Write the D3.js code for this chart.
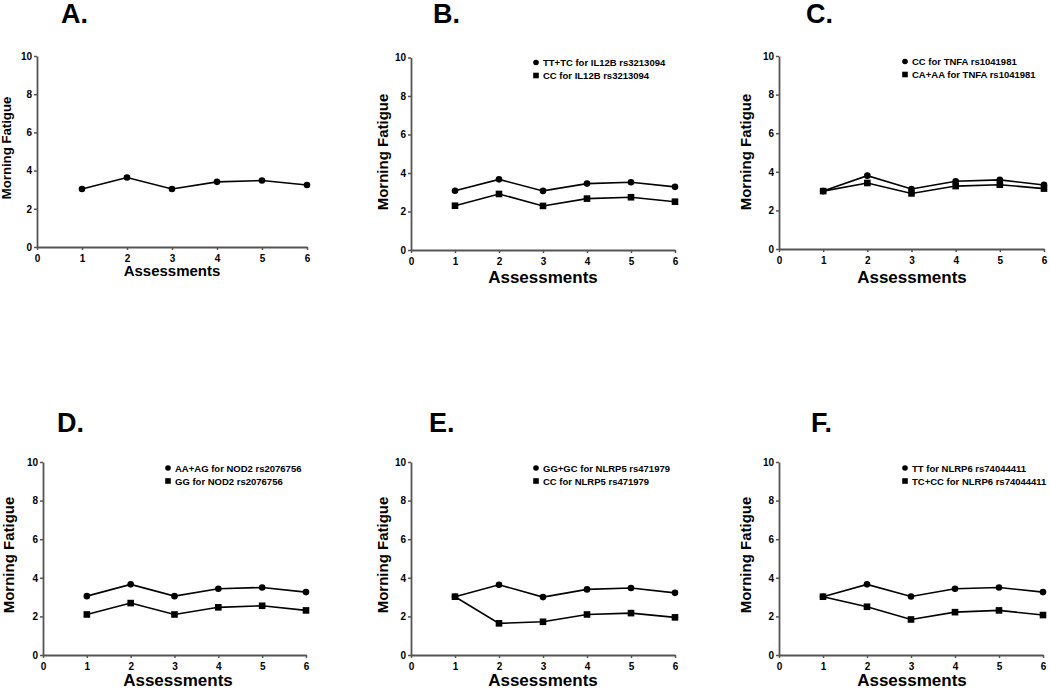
<!DOCTYPE html>
<html>
<head>
<meta charset="utf-8">
<script src="https://cdn.jsdelivr.net/npm/d3@7"></script>
<style>
  html, body { margin: 0; padding: 0; background: #fff; }
  svg { display: block; font-family: "Liberation Sans", Arial, sans-serif; }
</style>
</head>
<body>
<svg id="chart" width="1050" height="689"></svg>
<script>
// ---------------- data ----------------
const assessments = [1, 2, 3, 4, 5, 6];
const xTicks = [0, 1, 2, 3, 4, 5, 6];
const yTicks = [0, 2, 4, 6, 8, 10];
const panelLetters = ["A.", "B.", "C.", "D.", "E.", "F."];
const xAxisTitle = "Assessments";
const yAxisTitle = "Morning Fatigue";

const fatigueA = [3.04, 3.64, 3.04, 3.41, 3.48, 3.25];

const circleB = [3.08, 3.67, 3.07, 3.45, 3.52, 3.28];
const squareB = [2.30, 2.91, 2.29, 2.67, 2.74, 2.51];
const legendB = ["TT+TC for IL12B rs3213094", "CC for IL12B rs3213094"];

const circleC = [3.00, 3.80, 3.11, 3.51, 3.58, 3.32];
const squareC = [3.00, 3.42, 2.88, 3.26, 3.33, 3.13];
const legendC = ["CC for TNFA rs1041981", "CA+AA for TNFA rs1041981"];

const circleD = [3.05, 3.66, 3.05, 3.43, 3.50, 3.26];
const squareD = [2.10, 2.69, 2.10, 2.47, 2.55, 2.31];
const legendD = ["AA+AG for NOD2 rs2076756", "GG for NOD2 rs2076756"];

const circleE = [3.02, 3.64, 3.00, 3.40, 3.47, 3.22];
const squareE = [3.02, 1.64, 1.72, 2.10, 2.17, 1.95];
const legendE = ["GG+GC for NLRP5 rs471979", "CC for NLRP5 rs471979"];

const circleF = [3.02, 3.66, 3.03, 3.43, 3.50, 3.26];
const squareF = [3.02, 2.50, 1.84, 2.22, 2.31, 2.07];
const legendF = ["TT for NLRP6 rs74044411", "TC+CC for NLRP6 rs74044411"];

const panelSeries = [
  { circle: fatigueA, square: null, legend: null },
  { circle: circleB, square: squareB, legend: legendB },
  { circle: circleC, square: squareC, legend: legendC },
  { circle: circleD, square: squareD, legend: legendD },
  { circle: circleE, square: squareE, legend: legendE },
  { circle: circleF, square: squareF, legend: legendF }
];

// ---------------- layout ----------------
const layout = [
  { x0: 37,  x1: 307,  yTop: 56,  yBot: 247, tx: 61,  ty: 23,  ylx: 6,   yly: 148, ylFont: 13.2, xlx: 172, xly: 276, xlFont: 15, lx: 0,   ly: 0 },
  { x0: 411, x1: 675,  yTop: 57.5, yBot: 250, tx: 433, ty: 23,  ylx: 382, yly: 152, ylFont: 15,   xlx: 543, xly: 283, xlFont: 17, lx: 536, ly: 62.5 },
  { x0: 779, x1: 1044, yTop: 56,  yBot: 249, tx: 806, ty: 23,  ylx: 745, yly: 152, ylFont: 15,   xlx: 912, xly: 283, xlFont: 17, lx: 905, ly: 61.5 },
  { x0: 43,  x1: 306,  yTop: 462, yBot: 655, tx: 57,  ty: 432, ylx: 8,   yly: 555, ylFont: 15,   xlx: 178, xly: 686, xlFont: 17, lx: 168, ly: 468 },
  { x0: 411, x1: 675,  yTop: 462, yBot: 655, tx: 429, ty: 432, ylx: 382, yly: 555, ylFont: 15,   xlx: 543, xly: 686, xlFont: 17, lx: 536, ly: 468 },
  { x0: 779, x1: 1043, yTop: 462, yBot: 655, tx: 811, ty: 432, ylx: 745, yly: 555, ylFont: 15,   xlx: 912, xly: 686, xlFont: 17, lx: 905, ly: 468 }
];

const svg = d3.select("#chart");
const axisColor = "#555";

layout.forEach((L, i) => {
  const S = panelSeries[i];
  const x = d3.scaleLinear().domain([0, 6]).range([L.x0, L.x1]);
  const y = d3.scaleLinear().domain([0, 10]).range([L.yBot, L.yTop]);
  const g = svg.append("g");

  // title letter
  g.append("text").attr("x", L.tx).attr("y", L.ty)
    .attr("font-size", 27).attr("font-weight", "bold").attr("fill", "#000")
    .text(panelLetters[i]);

  // axes
  const xAxis = g.append("g").attr("transform", `translate(0,${L.yBot})`)
    .call(d3.axisBottom(x).tickValues(xTicks).tickSize(3).tickPadding(4.5).tickSizeOuter(0).tickFormat(d3.format("d")));
  const yAxis = g.append("g").attr("transform", `translate(${L.x0},0)`)
    .call(d3.axisLeft(y).tickValues(yTicks).tickSize(3).tickPadding(2).tickSizeOuter(0).tickFormat(d3.format("d")));
  [xAxis, yAxis].forEach(a => {
    a.select(".domain").attr("stroke", axisColor).attr("stroke-width", 1.8);
    a.selectAll(".tick line").attr("stroke", axisColor).attr("stroke-width", 1.5);
    a.selectAll(".tick text").attr("font-size", 10).attr("font-weight", "bold")
      .attr("fill", "#000").attr("font-family", "Liberation Sans, Arial, sans-serif");
  });

  // axis titles
  g.append("text").attr("x", L.xlx).attr("y", L.xly).attr("text-anchor", "middle")
    .attr("font-size", L.xlFont).attr("font-weight", "bold").attr("fill", "#000")
    .text(xAxisTitle);
  g.append("text").attr("transform", `translate(${L.ylx},${L.yly}) rotate(-90)`)
    .attr("text-anchor", "middle").attr("dominant-baseline", "central")
    .attr("font-size", L.ylFont).attr("font-weight", "bold").attr("fill", "#000")
    .text(yAxisTitle);

  const line = d3.line().x((d, k) => x(assessments[k])).y(d => y(d));

  const drawSeries = (vals, shape) => {
    g.append("path").datum(vals).attr("d", line)
      .attr("fill", "none").attr("stroke", "#000").attr("stroke-width", 1.6);
    if (shape === "circle") {
      g.selectAll(null).data(vals).enter().append("circle")
        .attr("cx", (d, k) => x(assessments[k])).attr("cy", d => y(d))
        .attr("r", 3.3).attr("fill", "#000");
    } else {
      g.selectAll(null).data(vals).enter().append("rect")
        .attr("x", (d, k) => x(assessments[k]) - 3.3).attr("y", d => y(d) - 3.3)
        .attr("width", 6.6).attr("height", 6.6).attr("fill", "#000");
    }
  };
  if (S.square) drawSeries(S.square, "square");
  drawSeries(S.circle, "circle");

  // legend
  if (S.legend) {
    const rowGap = 13;
    S.legend.forEach((lab, k) => {
      const cy = L.ly + k * rowGap;
      if (k === 0) {
        g.append("circle").attr("cx", L.lx).attr("cy", cy).attr("r", 2.8).attr("fill", "#000");
      } else {
        g.append("rect").attr("x", L.lx - 2.8).attr("y", cy - 2.8).attr("width", 5.6).attr("height", 5.6).attr("fill", "#000");
      }
      g.append("text").attr("x", L.lx + 7).attr("y", cy).attr("dominant-baseline", "central")
        .attr("font-size", 9.5).attr("font-weight", "bold").attr("fill", "#000")
        .text(lab);
    });
  }
});
</script>
</body>
</html>
